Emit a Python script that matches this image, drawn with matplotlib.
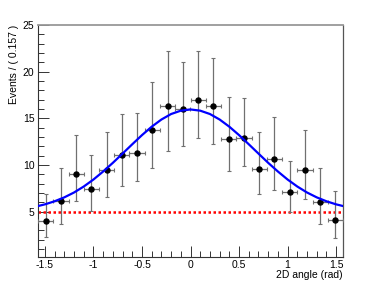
import numpy as np
import matplotlib
matplotlib.use('Agg')
import matplotlib.pyplot as plt
from matplotlib.ticker import MultipleLocator, FixedLocator

plt.rcParams['font.family'] = ['Liberation Sans', 'DejaVu Sans']
plt.rcParams['axes.unicode_minus'] = False

# binned data (bin width 0.157 rad)
bin_centers = [-1.492, -1.335, -1.178, -1.021, -0.864, -0.707, -0.550, -0.393, -0.236, -0.079,
               0.079, 0.236, 0.393, 0.550, 0.707, 0.864, 1.021, 1.178, 1.335, 1.492]
half_width = 0.0785
events = [4.0, 6.1, 9.05, 7.45, 9.43, 11.02, 11.33, 13.75, 16.27, 16.0,
          16.96, 16.32, 12.76, 12.94, 9.6, 10.66, 7.1, 9.48, 6.07, 4.1]
err_hi_end = [6.9, 9.65, 13.19, 11.04, 13.5, 15.47, 15.58, 18.9, 22.2, 21.0,
              22.19, 21.5, 17.26, 17.18, 13.5, 15.18, 10.47, 13.75, 9.65, 7.25]
err_lo_end = [2.32, 3.68, 6.15, 5.1, 6.54, 7.79, 8.29, 9.72, 11.46, 12.07,
              12.93, 12.26, 9.36, 9.9, 6.9, 7.29, 4.97, 6.39, 3.68, 2.15]

# total fit curve
curve_x = [-1.571, -1.5, -1.4, -1.3, -1.2, -1.1, -1.0, -0.9, -0.8, -0.7, -0.6, -0.5, -0.4,
           -0.3, -0.2, -0.1, 0.0, 0.1, 0.2, 0.3, 0.4, 0.5, 0.6, 0.7, 0.8, 0.9, 1.0,
           1.1, 1.2, 1.3, 1.4, 1.5, 1.571]
curve_y = [5.6, 5.78, 6.11, 6.53, 7.05, 7.69, 8.44, 9.3, 10.23, 11.22, 12.22, 13.2, 14.1,
           14.87, 15.46, 15.82, 15.95, 15.82, 15.46, 14.87, 14.1, 13.2, 12.22, 11.22, 10.23,
           9.3, 8.44, 7.69, 7.05, 6.53, 6.11, 5.78, 5.6]
background = 4.95

x_ticks = [-1.5, -1.0, -0.5, 0.0, 0.5, 1.0, 1.5]
x_tick_labels = ['-1.5', '-1', '-0.5', '0', '0.5', '1', '1.5']
y_ticks = [5, 10, 15, 20, 25]


def Main():
    fig = plt.figure(figsize=(3.82, 2.90), dpi=100)
    ax = fig.add_axes([0.0995, 0.1138, 0.7985, 0.80])

    y = np.asarray(events)
    yerr = [y - np.asarray(err_lo_end), np.asarray(err_hi_end) - y]

    ax.axhline(background, color='red', lw=1.8, ls=(0, (1, 1)), zorder=2)
    ax.errorbar(bin_centers, y, yerr=yerr, xerr=half_width, fmt='o', color='black',
                ms=3.6, ecolor='#707070', elinewidth=0.9, capsize=1.2, capthick=0.8, zorder=3)
    ax.plot(curve_x, curve_y, color='#0000ff', lw=1.6, zorder=4)

    ax.set_xlim(-1.5708, 1.5708)
    ax.set_ylim(0.14, 25)

    ax.xaxis.set_major_locator(FixedLocator(x_ticks))
    ax.set_xticklabels(x_tick_labels)
    ax.xaxis.set_minor_locator(MultipleLocator(0.1))
    ax.yaxis.set_major_locator(FixedLocator(y_ticks))
    ax.yaxis.set_minor_locator(MultipleLocator(1))

    ax.tick_params(which='both', direction='in', top=False, right=False,
                   labelsize=7.5, width=0.7, color='#333333')
    ax.tick_params(which='major', length=8, pad=2.5)
    ax.tick_params(which='minor', length=4)

    for s in ['left', 'bottom']:
        ax.spines[s].set_color('#333333')
        ax.spines[s].set_linewidth(0.8)
    ax.spines['top'].set_color('#999999')
    ax.spines['top'].set_linewidth(1.3)
    ax.spines['right'].set_color('#555555')
    ax.spines['right'].set_linewidth(0.9)

    ax.set_xlabel('2D angle (rad)', fontsize=7.5, loc='right', labelpad=-0.5)
    ax.set_ylabel('Events / ( 0.157 )', fontsize=7.5, loc='top', labelpad=3)

    plt.savefig('out.png', dpi=100)
    plt.close()


if __name__ == '__main__':
    Main()
